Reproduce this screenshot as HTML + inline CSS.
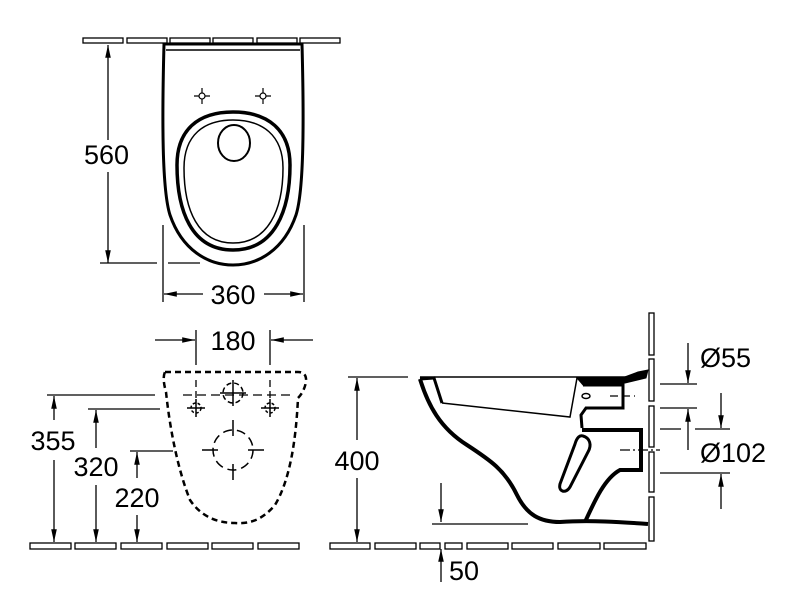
<!DOCTYPE html>
<html><head><style>body{margin:0;background:#fff}svg{display:block}text{font-family:"Liberation Sans",sans-serif;font-size:27px;fill:#000}</style></head>
<body>
<svg width="800" height="601" viewBox="0 0 800 601" xmlns="http://www.w3.org/2000/svg">
<defs>
<marker id="b" viewBox="0 0 16 10" refX="16" refY="5" markerWidth="16" markerHeight="8" markerUnits="userSpaceOnUse" orient="auto-start-reverse"><path d="M0,1.5 L16,5 L0,8.5Z" fill="#000"/></marker>
</defs>
<g fill="#fff" stroke="#000" stroke-width="1.3">
<rect x="83" y="38" width="40" height="5"/><rect x="127" y="38" width="40" height="5"/><rect x="170" y="38" width="40" height="5"/><rect x="213" y="38" width="40" height="5"/><rect x="257" y="38" width="40" height="5"/><rect x="300" y="38" width="40" height="5"/>
<rect x="30" y="543" width="41" height="6"/><rect x="75" y="543" width="41" height="6"/><rect x="121" y="543" width="41" height="6"/><rect x="167" y="543" width="41" height="6"/><rect x="212" y="543" width="41" height="6"/><rect x="258" y="543" width="41" height="6"/>
<rect x="330" y="543" width="40" height="6"/><rect x="375" y="543" width="41" height="6"/><rect x="420" y="543" width="20" height="6"/><rect x="445" y="543" width="17" height="6"/><rect x="467" y="543" width="41" height="6"/><rect x="512" y="543" width="41" height="6"/><rect x="558" y="543" width="42" height="6"/><rect x="604" y="543" width="42" height="6"/>
<rect x="649" y="313" width="5" height="42"/><rect x="649" y="359" width="5" height="42"/><rect x="649" y="406" width="5" height="41"/><rect x="649" y="452" width="5" height="40"/><rect x="649" y="497" width="5" height="44"/>
</g>
<g fill="none" stroke="#000">
<path d="M164,44 C162,120 162,190 170,215 C182,250 208,265 233,265 C258,265 284,250 296,215 C304,190 304,120 302,44 Z" stroke-width="3"/>
<line x1="166" y1="50" x2="300" y2="50" stroke-width="1.5"/>
<path d="M233,112 C268,112 290,130 290,165 C290,210 275,250 233,250 C191,250 177,210 177,165 C177,130 198,112 233,112Z" stroke-width="3.5"/>
<path d="M233,120 C262,120 283,135 283,168 C283,210 268,243 233,243 C198,243 184,210 184,168 C184,135 204,120 233,120Z" stroke-width="1.5"/>
<ellipse cx="234" cy="143" rx="16" ry="18" stroke-width="2"/>
<g stroke-width="1.2"><circle cx="202" cy="96" r="3"/><path d="M194,96h5M205,96h5M202,88v5M202,99v5"/><circle cx="263" cy="96" r="3"/><path d="M255,96h5M266,96h5M263,88v5M263,99v5"/></g>
<g stroke-width="1.3">
<line x1="108" y1="45" x2="108" y2="140" marker-start="url(#b)"/><line x1="108" y1="172" x2="108" y2="263" marker-end="url(#b)"/>
<path d="M100,263H157M168,263H200"/>
<path d="M163,225V302M304,225V302"/>
<line x1="203" y1="294" x2="164" y2="294" marker-end="url(#b)"/><line x1="264" y1="294" x2="303" y2="294" marker-end="url(#b)"/>
</g>
<path d="M165,372 L298,372 Q307,372 306,382 Q304,392 298,398 C296,440 290,480 275,505 C262,520 250,524 235,523 C215,523 200,515 190,500 C178,470 170,430 166,392 Q162,378 165,372Z" stroke-width="2.5" stroke-dasharray="6,4"/>
<g stroke-width="1.3">
<path d="M196,330V365M270,330V365"/>
<path d="M196,380V400M270,380V400" stroke-dasharray="7,4"/>
<line x1="155" y1="340" x2="195" y2="340" marker-end="url(#b)"/><line x1="313" y1="340" x2="271" y2="340" marker-end="url(#b)"/>
<path d="M183,395H290" stroke-dasharray="9,5"/>
<path d="M47,395H155M88,409H160M130,451H173"/>
<line x1="54" y1="420" x2="54" y2="396" marker-end="url(#b)"/><line x1="54" y1="460" x2="54" y2="542" marker-end="url(#b)"/>
<line x1="96" y1="448" x2="96" y2="410" marker-end="url(#b)"/><line x1="96" y1="485" x2="96" y2="542" marker-end="url(#b)"/>
<line x1="137" y1="478" x2="137" y2="452" marker-end="url(#b)"/><line x1="137" y1="515" x2="137" y2="542" marker-end="url(#b)"/>
</g>
<g stroke-width="1.5">
<circle cx="196" cy="408" r="5" stroke-dasharray="3,2"/><path d="M187,408h18M196,399v18"/>
<circle cx="270" cy="408" r="5" stroke-dasharray="3,2"/><path d="M261,408h18M270,399v18"/>
<circle cx="233" cy="393" r="10" stroke-dasharray="5,3"/><path d="M220,393h26M233,380v26"/>
<circle cx="233" cy="450" r="20" stroke-dasharray="9,5"/><path d="M202,450h16M248,450h16M233,420v16M233,464v16"/>
</g>
<g stroke-width="1.3">
<path d="M348,377H408"/>
<line x1="357" y1="440" x2="357" y2="378" marker-end="url(#b)"/><line x1="357" y1="478" x2="357" y2="542" marker-end="url(#b)"/>
<line x1="441" y1="483" x2="441" y2="522" marker-end="url(#b)"/><path d="M432,524H528"/>
<line x1="441" y1="582" x2="441" y2="549" marker-end="url(#b)"/>
<path d="M660,384H697M660,408H697M660,429H681M695,429H730M660,473H730"/>
<line x1="688" y1="343" x2="688" y2="383" marker-end="url(#b)"/><line x1="688" y1="450" x2="688" y2="409" marker-end="url(#b)"/>
<line x1="721" y1="393" x2="721" y2="428" marker-end="url(#b)"/><line x1="721" y1="509" x2="721" y2="474" marker-end="url(#b)"/>
<path d="M610,396H635" stroke-dasharray="8,4"/><path d="M620,450H660" stroke-dasharray="10,3,2,3"/>
</g>
<line x1="420" y1="377" x2="646" y2="377" stroke-width="1.5"/>
<path d="M420,379 C428,405 440,428 467,445 C490,460 505,470 517,495 C527,515 540,522 560,522 C590,520 620,522 648,524" stroke-width="4"/>
<path d="M420,379 L434,378 L442,403" stroke-width="3"/>
<path d="M442,403 L570,417 L577,378" stroke-width="1.5"/>
<path d="M577,378 L622,378 L638,372 L648,370 L646,378 L625,383 L583,385Z" fill="#000"/>
<path d="M583,385 L623,385 L623,408 L586,408 L581,415 L582,428" stroke-width="3"/>
<ellipse cx="586" cy="396" rx="4" ry="2.5" stroke-width="1.5"/>
<path d="M582,430 L641,430 L641,470 L620,470 C605,478 595,500 585,522" stroke-width="4"/>
<path d="M583,436 C590,438 592,445 588,452 L570,487 C566,494 558,492 560,484 L575,444 C577,437 580,435 583,436Z" stroke-width="3"/>
</g>
<text x="84" y="164">560</text>
<text x="233" y="304" text-anchor="middle">360</text>
<text x="233" y="350" text-anchor="middle">180</text>
<text x="53" y="450" text-anchor="middle">355</text>
<text x="96" y="476" text-anchor="middle">320</text>
<text x="137" y="507" text-anchor="middle">220</text>
<text x="357" y="470" text-anchor="middle">400</text>
<text x="449" y="580">50</text>
<text x="700" y="367">Ø55</text>
<text x="700" y="462">Ø102</text>
</svg>
</body></html>
